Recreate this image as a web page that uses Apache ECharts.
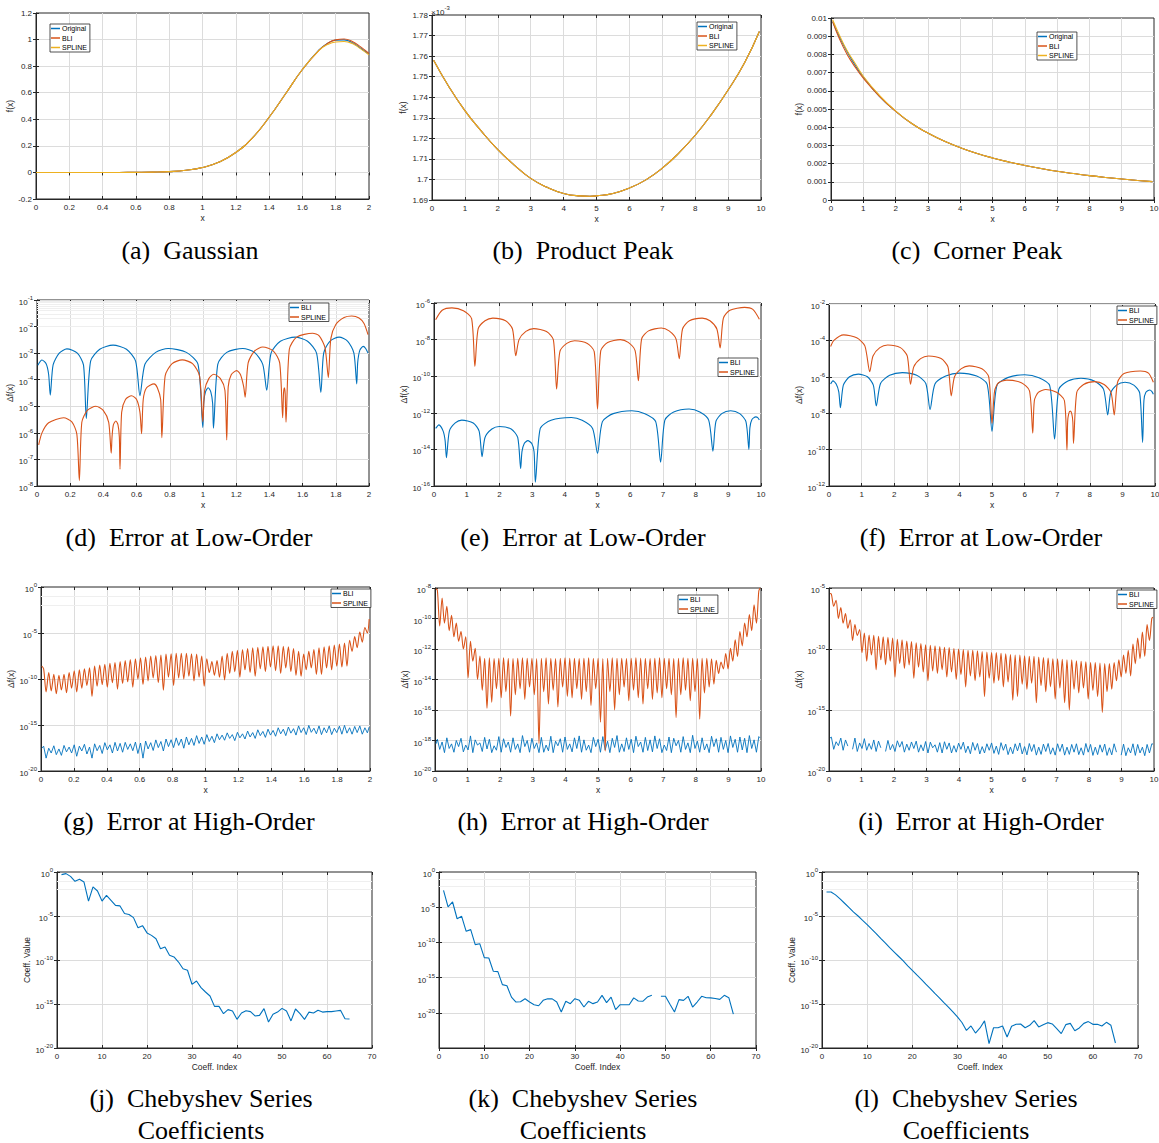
<!DOCTYPE html>
<html><head><meta charset="utf-8">
<script src="https://cdn.jsdelivr.net/npm/echarts@6/dist/echarts.min.js"></script>
<style>html,body{margin:0;padding:0;background:#fff}#c{width:1159px;height:1143px}</style>
</head><body><div id="c"></div>
<script>
// ---------- Row 1: functions ----------
const gaussX = [0,0.1,0.2,0.3,0.4,0.5,0.6,0.7,0.8,0.9,1.0,1.1,1.2,1.3,1.4,1.5,1.6,1.7,1.75,1.8,1.85,1.9,1.95,2.0];
const gaussOriginal = [0,0,0,0,0,0,0.0007,0.0022,0.0062,0.016,0.037,0.078,0.15,0.26,0.415,0.594,0.775,0.922,0.97,0.996,0.998,0.977,0.935,0.89];
const gaussBLI = [0,0,0,0,0,0,0.0007,0.0022,0.0062,0.016,0.037,0.078,0.15,0.26,0.415,0.594,0.775,0.92,0.97,0.998,1.004,0.985,0.945,0.895];
const gaussSPLINE = [0,0,0,0,0,0,0.0007,0.0022,0.0062,0.016,0.037,0.078,0.15,0.26,0.415,0.594,0.775,0.918,0.962,0.982,0.985,0.97,0.93,0.885];

const productX = [0.05,0.5,1,1.5,2,2.5,3,3.5,4,4.5,4.8,5,5.5,6,6.5,7,7.5,8,8.5,9,9.5,9.95];
const productOriginal = [1.758e-3,1.7455e-3,1.7335e-3,1.7235e-3,1.7145e-3,1.707e-3,1.7005e-3,1.6962e-3,1.6932e-3,1.692e-3,1.6918e-3,1.692e-3,1.6932e-3,1.6958e-3,1.6998e-3,1.7055e-3,1.7128e-3,1.7215e-3,1.7318e-3,1.7435e-3,1.7568e-3,1.772e-3];
const productBLI = productOriginal.slice();
const productSPLINE = productOriginal.slice();

const cornerX = [0.05,0.25,0.5,0.75,1,1.5,2,2.5,3,3.5,4,4.5,5,5.5,6,6.5,7,7.5,8,8.5,9,9.5,9.95];
const cornerOriginal = [0.0098,0.0090,0.00815,0.0074,0.00676,0.0057,0.00488,0.0042,0.00368,0.00324,0.00288,0.00257,0.00231,0.00209,0.0019,0.00173,0.00158,0.001457,0.00134,0.00124,0.001154,0.001074,0.001008];
const cornerBLI = [0.0098,0.0089,0.0080,0.0073,0.0067,0.0057,0.00488,0.0042,0.00368,0.00324,0.00288,0.00257,0.00231,0.00209,0.0019,0.00173,0.00158,0.001457,0.00134,0.00124,0.001154,0.001074,0.001008];
const cornerSPLINE = [0.0099,0.0091,0.0082,0.0075,0.0068,0.00575,0.0049,0.0042,0.00368,0.00324,0.00288,0.00257,0.00231,0.00209,0.0019,0.00173,0.00158,0.001457,0.00134,0.00124,0.001154,0.001074,0.001008];

// ---------- Row 2: low-order errors [x, |error|] ----------
const dBLI = [[0.005,3.5e-4],[0.03,5.5e-4],[0.055,4e-4],[0.07,1.6e-4],[0.08,2.6e-5],
[0.097,3.6e-4],[0.134,1e-3],[0.18,1.45e-3],[0.243,1e-3],[0.28,3.6e-4],[0.297,3.5e-6],
[0.323,5e-4],[0.378,1.4e-3],[0.458,2e-3],[0.539,1.4e-3],[0.594,5e-4],[0.62,2.5e-5],
[0.65,3.8e-4],[0.715,1.07e-3],[0.79,1.5e-3],[0.9,1.07e-3],[0.97,3.8e-4],[0.999,1.6e-6],
[1.005,1.5e-5],[1.015,3.5e-5],[1.031,5e-5],[1.047,3.5e-5],[1.058,1.3e-5],[1.063,1.5e-6],
[1.089,3.8e-4],[1.143,1.07e-3],[1.24,1.5e-3],[1.31,1.07e-3],[1.36,3.8e-4],[1.384,4e-5],
[1.41,1e-3],[1.466,2.8e-3],[1.555,4e-3],[1.63,2.8e-3],[1.684,1e-3],[1.71,3.3e-5],
[1.727,1e-3],[1.764,2.8e-3],[1.82,4e-3],[1.872,2.8e-3],[1.909,1e-3],[1.926,7e-5],
[1.932,4.5e-4],[1.945,1.3e-3],[1.965,1.8e-3],[1.98,1.5e-3],[1.994,1e-3]];
const dSPLINE = [[0.01,3.5e-7],[0.03,1e-6],[0.07,2.4e-6],[0.16,3.7e-6],[0.21,2.6e-6],[0.24,9e-7],[0.255,1.6e-8],
[0.27,2.5e-6],[0.303,7e-6],[0.355,1e-5],[0.399,7e-6],[0.432,2.5e-6],[0.447,1.7e-7],
[0.452,7e-7],[0.46,2e-6],[0.475,2.8e-6],[0.488,2e-6],[0.496,7e-7],[0.5,4.3e-8],
[0.51,6e-6],[0.533,1.8e-5],[0.57,2.5e-5],[0.6,1.8e-5],[0.62,6e-6],[0.63,9.3e-7],
[0.64,1.8e-5],[0.66,5e-5],[0.705,7e-5],[0.725,5e-5],[0.745,1.8e-5],[0.752,6.6e-7],
[0.772,1.4e-4],[0.814,4e-4],[0.875,5.6e-4],[0.937,4e-4],[0.979,1.4e-4],[0.999,2.6e-6],
[1.01,4e-5],[1.035,1.1e-4],[1.065,1.6e-4],[1.105,1.1e-4],[1.132,4e-5],[1.143,5.4e-7],
[1.152,5.5e-5],[1.17,1.55e-4],[1.203,2.2e-4],[1.226,1.55e-4],[1.245,5.5e-5],[1.254,2.2e-5],
[1.272,4.3e-4],[1.31,1.2e-3],[1.36,1.7e-3],[1.424,1.2e-3],[1.462,4.3e-4],[1.48,3.7e-6],
[1.485,3e-5],[1.49,5e-5],[1.495,3e-5],[1.5,2.5e-6],
[1.52,1.4e-3],[1.564,4e-3],[1.66,5.6e-3],[1.7,4.5e-3],[1.735,1.6e-3],[1.755,1.2e-4],
[1.77,3.5e-3],[1.8,1.2e-2],[1.85,2.2e-2],[1.896,2.5e-2],[1.94,2.1e-2],[1.97,1.3e-2],[1.994,5e-3]];

const eBLI = [[0.05,1.4e-13],[0.15,2.2e-13],[0.28,1e-13],[0.34,3e-14],[0.38,3.5e-15],
[0.47,1e-13],[0.65,2.8e-13],[0.85,4e-13],[1.2,2.8e-13],[1.38,1e-13],[1.47,4e-15],
[1.56,4.5e-14],[1.77,1.3e-13],[2.0,1.8e-13],[2.36,1.3e-13],[2.56,4.5e-14],[2.65,9e-16],
[2.69,7.5e-15],[2.76,2.1e-14],[2.87,3e-14],[2.99,2.1e-14],[3.06,7.5e-15],[3.1,1.6e-16],
[3.25,1.4e-13],[3.58,3.9e-13],[4.2,5.5e-13],[4.53,3.9e-13],[4.85,1.4e-13],[5.0,6e-15],
[5.15,3.3e-13],[5.48,9e-13],[6.05,1.3e-12],[6.45,9e-13],[6.78,3.3e-13],[6.93,2e-15],
[7.06,4e-13],[7.33,1.1e-12],[7.8,1.6e-12],[8.13,1.1e-12],[8.4,4e-13],[8.53,8e-15],
[8.62,3.3e-13],[8.8,9e-13],[9.07,1.3e-12],[9.35,9e-13],[9.54,3.3e-13],[9.63,1e-14],
[9.66,1.5e-13],[9.72,4.2e-13],[9.84,6e-13],[9.9,5.5e-13],[9.95,4e-13]];
const eSPLINE = [[0.05,1.2e-7],[0.25,4e-7],[0.55,5.4e-7],[0.9,3.8e-7],[1.15,1.4e-7],[1.25,3.4e-10],
[1.35,3.8e-8],[1.56,1.07e-7],[1.8,1.5e-7],[2.19,1.07e-7],[2.4,3.8e-8],[2.5,1.3e-9],
[2.6,1e-8],[2.81,2.8e-8],[3.05,4e-8],[3.44,2.8e-8],[3.65,1e-8],[3.75,2e-11],
[3.85,2.2e-9],[4.06,6.2e-9],[4.3,8.7e-9],[4.69,6.2e-9],[4.9,2.2e-9],[5.0,1.6e-12],
[5.1,2.5e-9],[5.31,7e-9],[5.7,1e-8],[5.94,7e-9],[6.15,2.5e-9],[6.25,5.6e-11],
[6.35,1.1e-8],[6.56,3e-8],[6.95,4.3e-8],[7.19,3e-8],[7.4,1.1e-8],[7.5,9e-10],
[7.6,3.8e-8],[7.81,1.07e-7],[8.2,1.5e-7],[8.44,1.07e-7],[8.65,3.8e-8],[8.75,3.5e-9],
[8.85,1.5e-7],[9.05,4e-7],[9.5,5.8e-7],[9.75,4.5e-7],[9.95,1.3e-7]];

const fBLI = [[0.05,4e-7],[0.12,6e-7],[0.22,4e-7],[0.3,1.5e-7],[0.35,2e-8],
[0.44,3.5e-7],[0.63,1e-6],[0.9,1.4e-6],[1.18,1e-6],[1.36,3.5e-7],[1.45,2.5e-8],
[1.58,4.3e-7],[1.86,1.2e-6],[2.25,1.7e-6],[2.69,1.2e-6],[2.97,4.3e-7],[3.1,1.6e-8],
[3.25,4e-7],[3.58,1.1e-6],[4.0,1.6e-6],[4.53,1.1e-6],[4.85,4e-7],[5.0,1e-9],
[5.15,3.3e-7],[5.48,9e-7],[6.0,1.3e-6],[6.44,9e-7],[6.77,3.3e-7],[6.92,3.8e-10],
[7.05,2.1e-7],[7.33,5.9e-7],[7.73,8.3e-7],[8.14,5.9e-7],[8.42,2.1e-7],[8.55,8e-9],
[8.64,1.3e-7],[8.82,3.5e-7],[9.08,5e-7],[9.35,3.5e-7],[9.53,1.3e-7],[9.62,2.5e-10],
[9.66,5e-8],[9.72,1.4e-7],[9.84,1.9e-7],[9.9,1.6e-7],[9.95,1.1e-7]];
const fSPLINE = [[0.05,4.6e-5],[0.15,1e-4],[0.45,2e-4],[0.85,1.4e-4],[1.1,5e-5],[1.25,1.9e-6],
[1.35,1.4e-5],[1.56,4e-5],[1.8,5.6e-5],[2.19,4e-5],[2.4,1.4e-5],[2.5,3.9e-7],
[2.6,3.5e-6],[2.81,1e-5],[3.05,1.4e-5],[3.44,1e-5],[3.65,3.5e-6],[3.75,9e-8],
[3.85,1e-6],[4.06,2.8e-6],[4.3,4e-6],[4.69,2.8e-6],[4.9,1e-6],[5.0,2.7e-9],
[5.08,1.7e-7],[5.2,4.7e-7],[5.45,6.6e-7],[5.9,4.7e-7],[6.15,1.7e-7],[6.25,8e-10],
[6.3,5e-8],[6.42,1.4e-7],[6.65,2e-7],[6.98,1.4e-7],[7.22,5e-8],[7.3,9.5e-11],
[7.32,3.3e-9],[7.35,9e-9],[7.4,1.3e-8],[7.45,9e-9],[7.48,3.3e-9],[7.5,2.2e-10],
[7.6,1.4e-7],[7.81,3.8e-7],[8.15,5.4e-7],[8.44,3.8e-7],[8.65,1.4e-7],[8.75,8e-9],
[8.85,5e-7],[9.05,1.5e-6],[9.55,2.1e-6],[9.8,1.6e-6],[9.95,5e-7]];

// ---------- Row 3: high-order errors ----------
const gX = [0.005,0.016,0.031,0.047,0.062,0.078,0.093,0.109,0.124,0.140,0.155,0.171,0.186,0.202,0.217,0.233,0.248,0.264,0.279,0.295,0.310,0.326,0.341,0.357,0.372,0.388,0.403,0.419,0.434,0.450,0.465,0.481,0.496,0.512,0.527,0.543,0.558,0.574,0.589,0.605,0.620,0.636,0.651,0.667,0.682,0.698,0.713,0.729,0.744,0.760,0.775,0.791,0.806,0.822,0.837,0.853,0.868,0.884,0.899,0.915,0.930,0.946,0.961,0.977,0.992,1.008,1.023,1.039,1.054,1.070,1.085,1.101,1.116,1.132,1.147,1.163,1.178,1.194,1.209,1.225,1.240,1.256,1.271,1.287,1.302,1.318,1.333,1.349,1.364,1.380,1.395,1.411,1.426,1.442,1.457,1.473,1.488,1.504,1.519,1.535,1.550,1.566,1.581,1.597,1.612,1.628,1.643,1.659,1.674,1.690,1.705,1.721,1.736,1.752,1.767,1.783,1.798,1.814,1.829,1.845,1.860,1.876,1.891,1.907,1.922,1.938,1.953,1.969,1.984,1.995];
const gSPLINE = [2.5e-9,
1.3e-9,4e-12,5e-10,5e-12,3.2e-10,2.5e-12,2.5e-10,6.3e-12,3.2e-10,3.2e-12,5e-10,1e-11,7.9e-10,4e-12,1e-9,1e-11,1.3e-9,2e-11,1.6e-9,1.3e-12,
2.5e-9,1.6e-11,3.2e-9,2.5e-11,4e-9,1.3e-11,5e-9,4e-11,6.3e-9,7.9e-12,7.9e-9,3.2e-11,1e-8,5e-11,1.3e-8,1.3e-11,1.6e-8,1e-10,2e-8,2.5e-11,
2.5e-8,6.3e-11,3.2e-8,1.3e-10,3.5e-8,4e-11,4e-8,6.3e-12,5e-8,1.6e-10,5.6e-8,2e-11,6.3e-8,1.3e-10,6.3e-8,1e-10,6.3e-8,2e-10,5.6e-8,6.3e-11,
5e-8,1.6e-10,3.2e-8,1.6e-11,1.6e-8,5e-10,7.9e-9,2.5e-10,1e-8,1.6e-10,3.2e-8,7.9e-11,6.3e-8,4e-10,1e-7,6.3e-10,1.3e-7,1.6e-10,1.6e-7,1e-9,
2e-7,5e-10,2.5e-7,2e-10,2.8e-7,1.3e-9,3.2e-7,6.3e-10,3.5e-7,2e-9,4e-7,7.9e-10,4e-7,4e-10,3.5e-7,1.6e-9,3.2e-7,6.3e-10,2e-7,2.5e-10,
1e-7,2e-10,5e-8,1e-9,1e-7,1.6e-9,1.6e-7,3.2e-10,2.5e-7,3.2e-10,3.2e-7,1.6e-9,4e-7,1e-9,5e-7,2.5e-9,6.3e-7,2e-9,7.9e-7,2.5e-9,
1.6e-6,1e-7,4e-6,2.5e-7,1.3e-5,1e-6,4e-5,1e-5,
3.2e-4];
const gBLI = [3e-18,
5e-18,2.5e-19,3e-18,9e-19,5.5e-18,6e-19,2.5e-18,5e-19,6e-18,1.2e-18,
4e-18,9e-19,7e-18,4e-19,5e-18,1.5e-18,8e-18,7e-19,4e-18,2.5e-19,
9e-18,1.6e-18,6e-18,8e-19,1.2e-17,2e-18,7e-18,9e-19,1.3e-17,1.5e-18,
1e-17,1.1e-18,1.3e-17,2.2e-18,9e-18,1.6e-18,1.4e-17,8e-19,1.1e-17,2.5e-19,
1.8e-17,2.5e-18,1.2e-17,1.7e-18,2.4e-17,3.5e-18,1.6e-17,1.5e-18,3e-17,4.5e-18,
2.5e-17,3.5e-18,4e-17,6e-18,3e-17,3e-18,5e-17,7e-18,3.5e-17,6e-18,
7e-17,1e-17,5e-17,8e-18,9e-17,1.6e-17,6e-17,1.2e-17,1.1e-16,2.5e-17,
8e-17,2.2e-17,1.4e-16,3.5e-17,9e-17,2e-17,1.6e-16,4e-17,1.1e-16,3e-17,
2.2e-16,5e-17,1.5e-16,3.5e-17,3e-16,7e-17,2e-16,4.5e-17,3.5e-16,8e-17,
2.6e-16,6e-17,5e-16,1.1e-16,3.5e-16,7e-17,6e-16,1.3e-16,4e-16,8e-17,
8e-16,1.5e-16,5e-16,9e-17,9e-16,1.6e-16,4.5e-16,1.1e-16,8e-16,9e-17,
5e-16,1.4e-16,8e-16,9e-17,4.5e-16,1.5e-16,7.5e-16,1e-16,9e-16,1.3e-16,
5e-16,1e-16,7e-16,1.5e-16,8e-16,1e-16,5e-16,1.4e-16,6e-16];

const hiX = [0.03,0.073,0.145,0.218,0.29,0.363,0.435,0.508,0.58,0.653,0.725,0.798,0.87,0.943,1.015,1.088,1.16,1.233,1.305,1.378,1.45,1.523,1.595,1.668,1.74,1.813,1.885,1.958,2.03,2.103,2.175,2.248,2.32,2.393,2.465,2.538,2.61,2.683,2.755,2.828,2.9,2.973,3.045,3.118,3.19,3.263,3.335,3.408,3.48,3.553,3.625,3.698,3.77,3.843,3.915,3.988,4.06,4.133,4.205,4.278,4.35,4.423,4.495,4.568,4.64,4.713,4.785,4.858,4.93,5.003,5.075,5.148,5.22,5.293,5.365,5.438,5.51,5.583,5.655,5.728,5.8,5.873,5.945,6.018,6.09,6.163,6.235,6.308,6.38,6.453,6.525,6.598,6.67,6.743,6.815,6.888,6.96,7.033,7.105,7.178,7.25,7.323,7.395,7.468,7.54,7.613,7.685,7.758,7.83,7.903,7.975,8.048,8.12,8.193,8.265,8.338,8.41,8.483,8.555,8.628,8.7,8.773,8.845,8.918,8.99,9.063,9.135,9.208,9.28,9.353,9.425,9.498,9.57,9.643,9.715,9.788,9.86,9.933,9.97];
const hSPLINE = [8.9e-9,
7.1e-9,3.2e-11,2.2e-9,5e-11,6.3e-10,1.6e-11,1.6e-10,6.3e-12,5e-11,3.2e-12,1.4e-11,1e-12,6.3e-12,1.3e-14,3.2e-12,1.6e-13,1.1e-12,1e-14,3.5e-13,2e-15,
2.5e-13,1.3e-16,2.6e-13,3.2e-16,2.4e-13,2.5e-15,2.5e-13,6.3e-16,2.6e-13,1.6e-15,2.5e-13,4e-17,2.4e-13,1e-15,2.5e-13,2.5e-15,2.6e-13,5e-16,2.5e-13,3.2e-15,
2.5e-13,1e-15,2.4e-13,6.3e-19,2.5e-13,1.6e-15,2.6e-13,2.5e-16,2.5e-13,2e-15,2.4e-13,1.6e-16,2.5e-13,3.2e-15,2.6e-13,7.9e-16,2.5e-13,6.3e-16,2.5e-13,2.5e-15,
2.4e-13,5e-16,2.5e-13,1.6e-15,2.6e-13,2e-16,2.5e-13,2.5e-15,2.5e-13,1.6e-17,2.4e-13,2e-19,2.5e-13,1.6e-15,2.6e-13,1e-16,2.5e-13,1e-15,2.5e-13,3.2e-15,
2.4e-13,4e-16,2.5e-13,2e-15,2.6e-13,6.3e-16,2.5e-13,2.5e-16,2.5e-13,2.5e-15,2.4e-13,5e-16,2.5e-13,1.3e-15,2.6e-13,6.3e-16,2.5e-13,2.5e-15,2.5e-13,1e-15,
2.4e-13,3.2e-17,2.5e-13,1e-15,2.6e-13,2e-15,2.5e-13,4e-16,2.5e-13,1.6e-15,2.4e-13,2.5e-17,2.5e-13,1.3e-15,2.5e-13,3.2e-15,2.3e-13,5e-15,
1.8e-13,2.5e-14,1.4e-13,5e-14,5e-13,5e-14,1.1e-12,1.6e-13,4e-12,3.2e-13,1.4e-11,1.6e-12,5e-11,6.3e-12,1.8e-10,1.6e-11,7.9e-10,5e-11,
6.3e-9,1e-8];
const hBLI = [6e-19,
1.2e-18,2.6e-19,8e-19,1.6e-19,1.5e-18,3e-19,6e-19,1.7e-19,1e-18,4e-19,
1.4e-18,1.8e-19,5e-19,2.4e-19,2e-18,1.6e-19,1.1e-18,5e-19,7e-19,1.9e-19,
1.6e-18,2.8e-19,1.2e-18,1.6e-19,4.5e-19,2.3e-19,1.8e-18,1.7e-19,1.3e-18,3.5e-19,
8e-19,1.7e-19,1.5e-18,2.6e-19,6e-19,1.6e-19,2.1e-18,4e-19,1e-18,1.7e-19,
1.4e-18,3e-19,7e-19,1.6e-19,1.6e-18,1.7e-19,5e-19,2.1e-19,1.9e-18,1.6e-19,
9e-19,4.5e-19,1.3e-18,1.7e-19,1.7e-18,2.6e-19,6e-19,1.8e-19,1.5e-18,3e-19,
2e-18,1.7e-19,1.1e-18,2.3e-19,5e-19,1.6e-19,1.6e-18,4e-19,1.2e-18,1.7e-19,
1.8e-18,2.4e-19,9e-19,1.6e-19,1.4e-18,3.5e-19,2.1e-18,1.7e-19,6e-19,1.9e-19,
1.5e-18,2.6e-19,1.2e-18,1.6e-19,1.9e-18,4e-19,8e-19,1.7e-19,1.6e-18,2.2e-19,
1.1e-18,1.8e-19,2e-18,3e-19,1.3e-18,1.6e-19,5e-19,2.2e-19,1.7e-18,1.6e-19,
1.4e-18,4.5e-19,1e-18,1.7e-19,1.8e-18,2.6e-19,7e-19,1.6e-19,2.2e-18,3e-19,
9e-19,1.7e-19,1.5e-18,2.4e-19,6e-19,1.6e-19,1.9e-18,4e-19,1.3e-18,1.7e-19,
1.6e-18,2.6e-19,1e-18,1.6e-19,2e-18,3.5e-19,1.2e-18,1.7e-19,1.7e-18,2.4e-19,
1.4e-18,1.6e-19,2.1e-18,3e-19,1.1e-18,1.7e-19,1.8e-18,1.5e-18];

const iSPLINE = [3.5e-6,
3.2e-6,3.2e-7,1e-6,3.2e-8,2.5e-7,1.3e-8,7.9e-8,5e-9,2.5e-8,5e-10,1e-8,1.3e-9,4e-9,5e-11,2e-9,1e-11,1.4e-9,3.2e-11,1.3e-9,2e-12,
1.1e-9,1.3e-11,1e-9,5e-12,8.9e-10,1e-11,7.9e-10,5e-13,6.3e-10,6.3e-12,5.6e-10,2.5e-12,4.5e-10,5e-12,4e-10,4e-13,3.2e-10,3.2e-12,2.8e-10,1.3e-12,
2.2e-10,2.5e-13,2e-10,1.6e-12,1.8e-10,1e-12,1.6e-10,2e-12,1.4e-10,5e-13,1.3e-10,1.3e-12,1.1e-10,3.2e-13,1e-10,7.9e-13,8.9e-11,7.9e-14,7.9e-11,6.3e-13,
7.9e-11,2.5e-13,7.1e-11,5e-13,6.3e-11,1.3e-14,5.6e-11,4e-13,5e-11,1.6e-13,5e-11,2.5e-13,4.5e-11,7.9e-14,4e-11,2e-13,3.5e-11,6.3e-15,3.2e-11,1.3e-14,
3.2e-11,1.3e-13,2.8e-11,5e-14,2.5e-11,1.6e-13,2.5e-11,4e-15,2.2e-11,1e-13,2e-11,3.2e-14,1.8e-11,7.9e-14,1.6e-11,7.9e-15,1.6e-11,6.3e-14,1.4e-11,4e-15,
1.3e-11,1e-15,1.3e-11,5e-14,1.1e-11,2.5e-14,1e-11,6.3e-14,8.9e-12,7.9e-15,7.9e-12,4e-14,7.9e-12,1.3e-14,7.1e-12,6.3e-16,6.3e-12,3.2e-14,6.3e-12,5e-14,
7.9e-12,2.5e-13,1.3e-11,5e-13,3.2e-11,1e-12,7.9e-11,6.3e-13,2.5e-10,6.3e-12,7.9e-10,1.6e-11,2.5e-9,2.5e-11,1e-8,5e-10,
3.2e-8,4e-8];
const iBLI = [5e-18,
6e-18,6e-19,2.5e-18,1.2e-18,5e-18,5e-19,3.5e-18,1.1e-18,null,6e-19,
5e-18,4e-19,2e-18,7e-19,4.5e-18,5e-19,1.8e-18,6e-19,3.5e-18,4e-19,
2.8e-18,8e-19,null,4e-19,3.2e-18,5.5e-19,1.5e-18,4e-19,3e-18,9e-19,
2.6e-18,3.5e-19,1.6e-18,5e-19,2.4e-18,7e-19,2.8e-18,3.5e-19,1.4e-18,4.5e-19,
2.6e-18,3e-19,2.3e-18,8e-19,1.4e-18,3.5e-19,2.1e-18,3e-19,2.5e-18,6e-19,
2e-18,3e-19,1.2e-18,3.5e-19,1.9e-18,6e-19,2.3e-18,3.2e-19,1.1e-18,2.6e-19,
2.2e-18,5e-19,1.8e-18,2.5e-19,1e-18,3e-19,1.7e-18,5e-19,2e-18,2.8e-19,
1.1e-18,2.3e-19,2.1e-18,5e-19,1.6e-18,2.2e-19,9e-19,2.6e-19,1.7e-18,4.5e-19,
2e-18,2.5e-19,1e-18,2.1e-19,1.8e-18,4e-19,1.5e-18,2e-19,9e-19,2.3e-19,
1.6e-18,4e-19,1.8e-18,2.4e-19,8e-19,2e-19,1.7e-18,4e-19,1.6e-18,2e-19,
9e-19,2.3e-19,1.5e-18,3.5e-19,1.7e-18,2.2e-19,8e-19,2e-19,1.8e-18,3.5e-19,
1.5e-18,1.9e-19,9e-19,2.2e-19,1.4e-18,3.5e-19,1.6e-18,1.9e-19,8e-19,2.1e-19,
1.7e-18,3.5e-19,null,2e-19,1.6e-18,1.8e-19,8e-19,3e-19,1.7e-18,1.9e-19,
1.5e-18,3e-19,9e-19,1.8e-19,1.5e-18,3e-19,1.7e-18,1.6e-18];

// ---------- Row 4: Chebyshev coefficients ----------
const coeffIndex = [1,2,3,4,5,6,7,8,9,10,11,12,13,14,15,16,17,18,19,20,21,22,23,24,25,26,27,28,29,30,31,32,33,34,35,36,37,38,39,40,41,42,43,44,45,46,47,48,49,50,51,52,53,54,55,56,57,58,59,60,61,62,63,64,65];
const chebGaussian = [0.5,0.65,0.32,0.087,0.15,0.072,5e-4,0.02,6.9e-3,5e-4,2.2e-3,6e-4,1.6e-4,1.4e-4,1.9e-5,1.5e-5,6.5e-6,4.7e-7,8e-7,1.2e-7,6.3e-8,2.6e-8,1.9e-9,3e-9,3.4e-10,2.2e-10,5.9e-11,1e-11,6.8e-12,1.7e-13,4.1e-13,7.2e-14,2.3e-14,8.1e-15,5.4e-16,5.4e-16,7.9e-17,2.3e-16,1.6e-16,1.8e-17,9.5e-17,1.7e-16,1.35e-16,4.4e-17,5.1e-17,3e-16,8.9e-18,6.8e-17,1.2e-16,3.2e-16,1.6e-16,1.2e-17,2.7e-16,7.9e-17,1.8e-17,1.2e-16,9.5e-17,1.9e-16,1.2e-16,1.35e-16,1.35e-16,1.6e-16,1.9e-16,2.1e-17,2e-17];
const chebProduct = [2.5e-3,1.1e-5,5.5e-5,2.3e-7,5e-7,3.7e-9,6.5e-9,4.8e-11,6.6e-11,6.8e-13,6e-13,7.8e-15,7e-15,1e-16,7e-17,1.7e-18,3.4e-19,3.8e-19,1e-18,3.4e-19,1.4e-19,1e-19,5.9e-19,1e-18,9.5e-19,3.4e-19,1.3e-20,4.3e-19,2e-19,1e-18,5.9e-19,6.6e-20,4.3e-19,2e-19,3.4e-19,3e-18,2.8e-19,1.7e-18,2.8e-20,1.4e-19,1.4e-19,1.4e-19,1.3e-18,4.8e-19,4.3e-19,1.7e-18,3e-18,null,2.2e-18,2.2e-18,1.6e-19,1.3e-20,7.4e-19,5.9e-19,2.2e-18,6.6e-20,3.4e-19,2.2e-18,1.4e-18,1.3e-18,1.1e-18,8e-19,3e-18,1.4e-18,6.3e-21];
const chebCorner = [5.4e-3,5.4e-3,2.5e-3,8.9e-4,2.8e-4,8.9e-5,2.8e-5,1e-5,3.2e-6,1.07e-6,3.2e-7,1e-7,2.8e-8,8.9e-9,2.5e-9,7.9e-10,2.5e-10,7.9e-11,2.2e-11,6.8e-12,2e-12,6.3e-13,1.8e-13,5.6e-14,1.6e-14,5e-15,1.4e-15,4.5e-16,1.26e-16,3.5e-17,7.9e-18,1e-18,3.2e-18,5e-19,1.9e-18,1.2e-17,3.2e-20,2e-18,2e-18,3.2e-18,1.8e-19,2.9e-18,4.9e-18,5.4e-18,2e-18,3.8e-18,1.3e-17,2.5e-18,4.5e-18,7.6e-18,5.4e-18,1.6e-18,4.3e-19,4.5e-18,6.3e-18,9.3e-19,1.9e-18,6.3e-18,1e-17,4.9e-18,4.9e-18,3.2e-18,8.3e-18,3.8e-18,3.7e-20];

// ---------- Captions ----------
const captions = ['(a)\u00a0 Gaussian','(b)\u00a0 Product Peak','(c)\u00a0 Corner Peak',
 '(d)\u00a0 Error at Low-Order','(e)\u00a0 Error at Low-Order','(f)\u00a0 Error at Low-Order',
 '(g)\u00a0 Error at High-Order','(h)\u00a0 Error at High-Order','(i)\u00a0 Error at High-Order',
 '(j)\u00a0 Chebyshev Series','(k)\u00a0 Chebyshev Series','(l)\u00a0 Chebyshev Series'];
const captionLine2 = 'Coefficients';

// ================= build =================
const COL = {blue:'#0072BD', orange:'#D95319', yellow:'#EDB120', axis:'#262626'};
const SANS = '"Liberation Sans", Arial, Helvetica, sans-serif';
const zip = (xs, ys) => xs.map((x, i) => [x, ys[i]]);
const grids = [], xAxes = [], yAxes = [], series = [], legends = [], graphics = [];

function logLabel(v) {
  const e = Math.round(Math.log10(v));
  return '{b|10}{s|' + e + '}';
}
function minorValues(lo, hi, step) {
  const out = [];
  for (let e = lo; e < hi; e++) {
    if (step <= 2) for (let m = 2; m <= 9; m++) out.push(m * Math.pow(10, e));
    if ((e - lo) % step !== 0) out.push(Math.pow(10, e));
  }
  return out;
}
const TICK = {show: true, inside: true, length: 3, lineStyle: {color: COL.axis, width: 1}};

function addPanel(p) {
  const gi = grids.length;
  grids.push({left: p.rect[0], top: p.rect[1], width: p.rect[2], height: p.rect[3], show: true,
    borderColor: COL.axis, borderWidth: 1, backgroundColor: '#fff', containLabel: false, outerBoundsMode: 'none'});
  const common = {
    gridIndex: gi, nameLocation: 'middle',
    nameTextStyle: {fontSize: 8.5, color: COL.axis, fontFamily: SANS},
    axisLine: {show: true, onZero: false, lineStyle: {color: COL.axis, width: 1}},
    axisTick: TICK,
    splitLine: {show: true, showMinLine: false, showMaxLine: false, lineStyle: {color: '#dcdcdc', width: 1}},
  };
  const xi = xAxes.length, yi = yAxes.length;
  const xScale = {type: 'value', min: p.x.min, max: p.x.max, interval: p.x.interval};
  xAxes.push(Object.assign({}, common, xScale, {position: 'bottom',
    name: p.x.name, nameGap: p.x.nameGap || 14,
    axisLabel: {fontSize: 8, color: COL.axis, margin: 4, fontFamily: SANS}}));
  // mirrored top axis: ticks only (box style)
  xAxes.push(Object.assign({gridIndex: gi, position: 'top', axisLine: {show: false}, axisTick: TICK,
    axisLabel: {show: false}, splitLine: {show: false}}, xScale));
  const y = p.y;
  let yScale;
  const yAx = Object.assign({}, common, {position: 'left', name: y.name, nameGap: y.nameGap});
  if (y.log) {
    yScale = {type: 'log', logBase: 10, min: Math.pow(10, y.lo), max: Math.pow(10, y.hi), interval: y.step};
    Object.assign(yAx, yScale, {
      axisLabel: {formatter: logLabel, color: COL.axis, margin: 4, fontFamily: SANS,
        rich: {b: {fontSize: 8, color: COL.axis, fontFamily: SANS, padding: [5, 0, 0, 0]},
               s: {fontSize: 6, color: COL.axis, fontFamily: SANS, padding: [0, 0, 4, 0]}}}});
    series.push({type: 'line', name: 'minor grid ' + gi, xAxisIndex: xi, yAxisIndex: yi, data: [], silent: true, z: 1,
      markLine: {silent: true, z: 1, symbol: ['none', 'none'], label: {show: false}, animation: false,
        lineStyle: {color: '#efefef', type: 'solid', width: 1},
        emphasis: {disabled: true},
        data: minorValues(y.lo, y.hi, y.step).map(v => ({yAxis: v}))}});
  } else {
    yScale = {type: 'value', min: y.min, max: y.max, interval: y.interval};
    Object.assign(yAx, yScale, {
      axisLabel: {fontSize: 8, color: COL.axis, margin: 4, fontFamily: SANS}});
  }
  yAxes.push(yAx);
  yAxes.push(Object.assign({gridIndex: gi, position: 'right', axisLine: {show: false}, axisTick: TICK,
    axisLabel: {show: false}, splitLine: {show: false}}, yScale));
  p.lines.forEach(l => series.push({type: 'line', name: l.name, xAxisIndex: xi, yAxisIndex: yi, data: l.data,
    symbol: 'none', showSymbol: false, smooth: l.smooth || false, connectNulls: false, clip: true, silent: true, z: 3,
    lineStyle: {color: l.color, width: l.width || 1.1}, itemStyle: {color: l.color}, emphasis: {disabled: true}}));
  if (p.legend) {
    legends.push({left: p.legend[0], top: p.legend[1], orient: 'vertical', selectedMode: false, z: 20,
      icon: 'rect',
      data: p.lines.map(l => ({name: l.name, icon: 'rect', itemStyle: {color: l.color, borderWidth: 0}})),
      itemWidth: 9, itemHeight: 1.5, itemGap: 2.5, padding: [1, 3, 1, 1],
      backgroundColor: '#fff', borderColor: COL.axis, borderWidth: 0.8, borderRadius: 0,
      textStyle: {fontSize: 7, color: '#000', fontFamily: SANS, padding: [0, 0, 0, -3]}});
  }
}

const L3 = (a, b, c) => [{name: 'Original', color: COL.blue, data: a, smooth: true},
                         {name: 'BLI', color: COL.orange, data: b, smooth: true},
                         {name: 'SPLINE', color: COL.yellow, data: c, smooth: true}];
const L2 = (b, s, sm) => [{name: 'BLI', color: COL.blue, data: b, smooth: sm},
                          {name: 'SPLINE', color: COL.orange, data: s, smooth: sm}];
const L2h = (b, s) => [{name: 'BLI', color: COL.blue, data: b, width: 0.9},
                       {name: 'SPLINE', color: COL.orange, data: s, smooth: 0.3}];

// Row 1
addPanel({rect: [36, 13, 333, 186], x: {min: 0, max: 2, interval: 0.2, name: 'x'},
  y: {min: -0.2, max: 1.2, interval: 0.2, name: 'f(x)', nameGap: 18},
  lines: L3(zip(gaussX, gaussOriginal), zip(gaussX, gaussBLI), zip(gaussX, gaussSPLINE)), legend: [50, 24]});
const scale3 = a => a.map(v => v * 1e3);
addPanel({rect: [432, 15, 329, 185], x: {min: 0, max: 10, interval: 1, name: 'x'},
  y: {min: 1.69, max: 1.78, interval: 0.01, name: 'f(x)', nameGap: 25},
  lines: L3(zip(productX, scale3(productOriginal)), zip(productX, scale3(productBLI)), zip(productX, scale3(productSPLINE))), legend: [697, 22]});
addPanel({rect: [831, 18, 323, 182], x: {min: 0, max: 10, interval: 1, name: 'x'},
  y: {min: 0, max: 0.01, interval: 0.001, name: 'f(x)', nameGap: 26},
  lines: L3(zip(cornerX, cornerOriginal), zip(cornerX, cornerBLI), zip(cornerX, cornerSPLINE)), legend: [1037, 32]});
// Row 2
addPanel({rect: [37, 300, 332, 186], x: {min: 0, max: 2, interval: 0.2, name: 'x'},
  y: {log: true, lo: -8, hi: -1, step: 1, name: '\u0394f(x)', nameGap: 18}, lines: L2(dBLI, dSPLINE, 0.25), legend: [289, 303]});
addPanel({rect: [434, 303, 327, 183], x: {min: 0, max: 10, interval: 1, name: 'x'},
  y: {log: true, lo: -16, hi: -6, step: 2, name: '\u0394f(x)', nameGap: 25}, lines: L2(eBLI, eSPLINE, 0.25), legend: [718, 358]});
addPanel({rect: [829, 304, 326, 182], x: {min: 0, max: 10, interval: 1, name: 'x'},
  y: {log: true, lo: -12, hi: -2, step: 2, name: '\u0394f(x)', nameGap: 25}, lines: L2(fBLI, fSPLINE, 0.25), legend: [1117, 306]});
// Row 3
addPanel({rect: [41, 587, 329, 184], x: {min: 0, max: 2, interval: 0.2, name: 'x'},
  y: {log: true, lo: -20, hi: 0, step: 5, name: '\u0394f(x)', nameGap: 24}, lines: L2h(zip(gX, gBLI), zip(gX, gSPLINE)), legend: [331, 589]});
addPanel({rect: [435, 588, 326, 183], x: {min: 0, max: 10, interval: 1, name: 'x'},
  y: {log: true, lo: -20, hi: -8, step: 2, name: '\u0394f(x)', nameGap: 25}, lines: L2h(zip(hiX, hBLI), zip(hiX, hSPLINE)), legend: [678, 595]});
addPanel({rect: [829, 588, 325, 183], x: {min: 0, max: 10, interval: 1, name: 'x'},
  y: {log: true, lo: -20, hi: -5, step: 5, name: '\u0394f(x)', nameGap: 25}, lines: L2h(zip(hiX, iBLI), zip(hiX, iSPLINE)), legend: [1117, 590]});
// Row 4
const L1 = (n, d) => [{name: n, color: COL.blue, data: d}];
addPanel({rect: [57, 872, 315, 176], x: {min: 0, max: 70, interval: 10, name: 'Coeff. Index'},
  y: {log: true, lo: -20, hi: 0, step: 5, name: 'Coeff. Value', nameGap: 25}, lines: L1('Gaussian coefficients', zip(coeffIndex, chebGaussian))});
addPanel({rect: [439, 872, 317, 176], x: {min: 0, max: 70, interval: 10, name: 'Coeff. Index'},
  y: {log: true, lo: -25, hi: 0, step: 5, name: 'Coeff. Value', nameGap: 25}, lines: L1('Product Peak coefficients', zip(coeffIndex, chebProduct))});
addPanel({rect: [822, 872, 316, 176], x: {min: 0, max: 70, interval: 10, name: 'Coeff. Index'},
  y: {log: true, lo: -20, hi: 0, step: 5, name: 'Coeff. Value', nameGap: 25}, lines: L1('Corner Peak coefficients', zip(coeffIndex, chebCorner))});

// captions
const capPos = [[190,250],[583,250],[977,250],[189,537],[583,537],[981,537],[189,821],[583,821],[981,821],[201,1098],[583,1098],[966,1098]];
const CAPFONT = '26px "Liberation Serif", "Times New Roman", serif';
captions.forEach((t, i) => {
  graphics.push({type: 'text', x: capPos[i][0], y: capPos[i][1], silent: true,
    style: {text: t, font: CAPFONT, fill: '#000', textAlign: 'center', textVerticalAlign: 'middle'}});
  if (i >= 9) graphics.push({type: 'text', x: capPos[i][0], y: 1130, silent: true,
    style: {text: captionLine2, font: CAPFONT, fill: '#000', textAlign: 'center', textVerticalAlign: 'middle'}});
});
// exponent note on panel (b)
graphics.push({type: 'text', x: 431, y: 10, silent: true,
  style: {text: '{a|\u00d710}{b|-3}', textVerticalAlign: 'middle',
    rich: {a: {fontSize: 8, fill: COL.axis, fontFamily: SANS, padding: [4, 0, 0, 0]}, b: {fontSize: 6, fill: COL.axis, fontFamily: SANS, padding: [0, 0, 4, 0]}}}});

const chart = echarts.init(document.getElementById('c'), null, {renderer: 'svg'});
chart.setOption({
  animation: false, backgroundColor: '#fff',
  grid: grids, xAxis: xAxes, yAxis: yAxes, series: series, legend: legends, graphic: graphics
});
</script></body></html>
